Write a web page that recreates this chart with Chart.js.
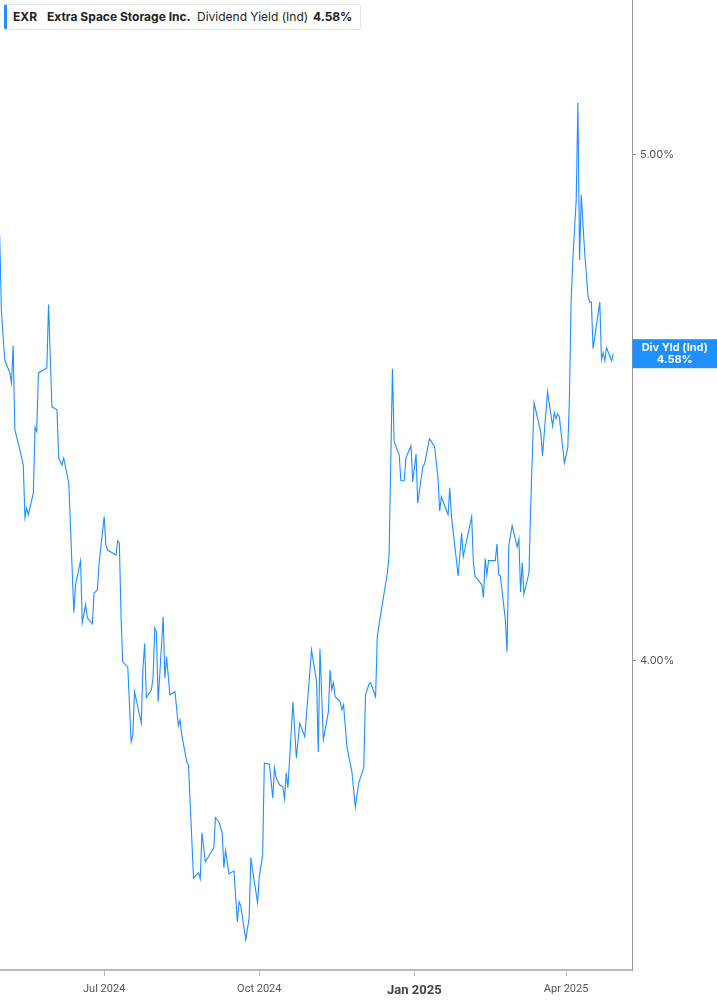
<!DOCTYPE html>
<html>
<head>
<meta charset="utf-8">
<script src="https://cdn.jsdelivr.net/npm/chart.js@4.4.1/dist/chart.umd.min.js"></script>
<style>
  html, body { margin: 0; padding: 0; background: #ffffff; }
  #wrap { position: relative; width: 717px; height: 1005px; overflow: hidden; }
  #c { position: absolute; left: 0; top: 0; }
  #legend {
    position: absolute; left: 4px; top: 4px; width: 357px; height: 26px;
    box-sizing: border-box; border: 1px solid #e4e4e4; border-left: 3px solid #1e8fff;
    border-radius: 3px; background: #fff;
    font-family: Inter, "Noto Sans", sans-serif; font-size: 12px; color: #222;
  }
  #legend span { position: absolute; top: 5px; white-space: nowrap; line-height: 14px; }
  .b { font-weight: 700; }
</style>
</head>
<body>
<div id="wrap">
  <canvas id="c" width="717" height="1005"></canvas>
  <div id="legend">
    <span class="b" style="left:6px">EXR</span>
    <span class="b" style="left:40px">Extra Space Storage Inc.</span>
    <span style="left:190px">Dividend Yield (Ind)</span>
    <span class="b" style="left:306px">4.58%</span>
  </div>
</div>
<script>
// ---- data ----
const dates = [
  '2024-04-30','2024-05-01','2024-05-03','2024-05-06','2024-05-07','2024-05-08','2024-05-09','2024-05-12','2024-05-14','2024-05-15',
  '2024-05-16','2024-05-17','2024-05-20','2024-05-21','2024-05-22','2024-05-23','2024-05-28','2024-05-29','2024-05-31','2024-06-03',
  '2024-06-04','2024-06-06','2024-06-07','2024-06-10','2024-06-13','2024-06-14','2024-06-17','2024-06-18','2024-06-20','2024-06-21',
  '2024-06-24','2024-06-25','2024-06-27','2024-06-28','2024-07-01','2024-07-02','2024-07-03','2024-07-08','2024-07-09','2024-07-10',
  '2024-07-11','2024-07-12','2024-07-15','2024-07-17','2024-07-18','2024-07-19','2024-07-23','2024-07-24','2024-07-25','2024-07-26',
  '2024-07-29','2024-07-30','2024-07-31','2024-08-01','2024-08-02','2024-08-05','2024-08-06','2024-08-07','2024-08-09','2024-08-12',
  '2024-08-14','2024-08-15','2024-08-16','2024-08-19','2024-08-20','2024-08-23','2024-08-26','2024-08-27','2024-08-28','2024-08-30',
  '2024-09-04','2024-09-05','2024-09-07','2024-09-09','2024-09-10','2024-09-11','2024-09-13','2024-09-16','2024-09-18','2024-09-19',
  '2024-09-20','2024-09-23','2024-09-25','2024-09-26','2024-09-27','2024-09-30','2024-10-01','2024-10-03','2024-10-04','2024-10-07',
  '2024-10-09','2024-10-10','2024-10-11','2024-10-13','2024-10-15','2024-10-16','2024-10-17','2024-10-18','2024-10-21','2024-10-23',
  '2024-10-25','2024-10-28','2024-11-01','2024-11-04','2024-11-05','2024-11-06','2024-11-08','2024-11-11','2024-11-12','2024-11-13',
  '2024-11-14','2024-11-15','2024-11-18','2024-11-19','2024-11-20','2024-11-22','2024-11-25','2024-11-27','2024-11-29','2024-12-02',
  '2024-12-03','2024-12-05','2024-12-06','2024-12-09','2024-12-10','2024-12-11','2024-12-16','2024-12-17','2024-12-19','2024-12-20',
  '2024-12-23','2024-12-24','2024-12-26','2024-12-27','2024-12-30','2024-12-31','2025-01-02','2025-01-03','2025-01-06','2025-01-07',
  '2025-01-10','2025-01-13','2025-01-15','2025-01-16','2025-01-17','2025-01-21','2025-01-22','2025-01-23','2025-01-27','2025-01-29',
  '2025-01-30','2025-02-04','2025-02-05','2025-02-06','2025-02-07','2025-02-10','2025-02-11','2025-02-12','2025-02-13','2025-02-14',
  '2025-02-18','2025-02-19','2025-02-20','2025-02-21','2025-02-24','2025-02-25','2025-02-26','2025-02-28','2025-03-03','2025-03-04',
  '2025-03-05','2025-03-06','2025-03-07','2025-03-10','2025-03-11','2025-03-13','2025-03-17','2025-03-18','2025-03-21','2025-03-24',
  '2025-03-25','2025-03-26','2025-03-27','2025-03-28','2025-03-31','2025-04-02','2025-04-03','2025-04-04','2025-04-05','2025-04-07',
  '2025-04-08','2025-04-09','2025-04-10','2025-04-12','2025-04-14','2025-04-15','2025-04-16','2025-04-17','2025-04-21','2025-04-22',
  '2025-04-23','2025-04-24','2025-04-25','2025-04-28','2025-04-29'
];
const yields = [
  4.842,4.694,4.595,4.569,4.549,4.623,4.457,4.417,4.387,4.283,
  4.302,4.289,4.332,4.462,4.453,4.569,4.579,4.704,4.502,4.496,
  4.401,4.387,4.401,4.352,4.095,4.150,4.198,4.075,4.111,4.085,
  4.073,4.134,4.140,4.194,4.285,4.229,4.219,4.209,4.237,4.233,
  4.087,3.998,3.988,3.840,3.854,3.939,3.877,3.986,4.034,3.927,
  3.943,3.966,4.065,4.057,3.919,4.087,3.966,4.008,3.933,3.939,
  3.872,3.883,3.854,3.800,3.794,3.571,3.581,3.569,3.660,3.603,
  3.630,3.690,3.682,3.660,3.591,3.626,3.579,3.585,3.484,3.524,
  3.516,3.449,3.492,3.611,3.587,3.522,3.573,3.617,3.798,3.796,
  3.729,3.789,3.769,3.755,3.751,3.727,3.779,3.749,3.919,3.808,
  3.877,3.850,4.022,3.958,3.820,4.024,3.844,3.899,3.982,3.943,
  3.957,3.929,3.919,3.903,3.913,3.830,3.779,3.711,3.759,3.789,
  3.933,3.953,3.957,3.929,4.047,4.071,4.174,4.209,4.577,4.433,
  4.407,4.356,4.356,4.401,4.425,4.354,4.409,4.312,4.383,4.389,
  4.439,4.423,4.362,4.296,4.324,4.289,4.342,4.285,4.168,4.253,
  4.206,4.285,4.194,4.166,4.164,4.150,4.125,4.202,4.170,4.198,
  4.198,4.231,4.170,4.168,4.081,4.018,4.227,4.267,4.225,4.241,
  4.136,4.194,4.132,4.174,4.304,4.510,4.451,4.405,4.532,4.464,
  4.490,4.478,4.488,4.482,4.391,4.421,4.522,4.713,4.792,4.911,
  5.103,4.792,4.921,4.808,4.721,4.709,4.709,4.617,4.709,4.595,
  4.609,4.593,4.619,4.593,4.607
];
const xTickDates  = ['2024-07-01','2024-10-01','2025-01-01','2025-04-01'];
const xTickLabels = ['Jul 2024','Oct 2024','Jan 2025','Apr 2025'];
const boldTickLabel = 'Jan 2025';
const yTicks = [4.00, 5.00];
const seriesName = 'Div Yld (Ind)';
const lastLabel = '4.58%';

// ---- helpers ----
const BASE = Date.UTC(2024, 6, 1);
const dayOf = s => { const p = s.split('-').map(Number); return (Date.UTC(p[0], p[1]-1, p[2]) - BASE) / 86400000; };
const points = dates.map((d, i) => ({ x: dayOf(d), y: yields[i] }));
const xTickVals = xTickDates.map(dayOf);
const labelFor = v => xTickLabels[xTickVals.indexOf(v)] || '';

const LINE_BLUE = '#1e8fff';

const lastBadge = {
  id: 'lastBadge',
  afterDraw(chart) {
    const { ctx, chartArea, scales } = chart;
    const last = points[points.length - 1];
    const y = scales.y.getPixelForValue(last.y);
    const x0 = chartArea.right + 0.5, x1 = chart.width;
    ctx.save();
    ctx.fillStyle = LINE_BLUE;
    ctx.fillRect(x0, y - 14.5, x1 - x0, 29);
    ctx.fillStyle = '#ffffff';
    ctx.font = '700 11px Inter, "Noto Sans", sans-serif';
    ctx.textAlign = 'center';
    ctx.textBaseline = 'middle';
    const cx = (x0 + x1) / 2;
    ctx.fillText(seriesName, cx, y - 6);
    ctx.fillText(lastLabel, cx, y + 5.5);
    ctx.restore();
  }
};

new Chart(document.getElementById('c'), {
  type: 'line',
  data: {
    datasets: [{
      data: points,
      borderColor: LINE_BLUE,
      borderWidth: 1.1,
      pointRadius: 0,
      tension: 0,
      fill: false
    }]
  },
  options: {
    responsive: false,
    animation: false,
    devicePixelRatio: 1,
    layout: { padding: 0 },
    plugins: { legend: { display: false }, tooltip: { enabled: false } },
    scales: {
      x: {
        type: 'linear',
        min: -61.8,
        max: 313.1,
        afterFit(s) { s.height = 35; s.paddingLeft = 0; s.paddingRight = 0; },
        afterBuildTicks(s) { s.ticks = xTickVals.map(v => ({ value: v })); },
        grid: { drawOnChartArea: false, drawTicks: true, tickLength: 6, color: '#bbbbbb', lineWidth: 1 },
        border: { display: true, color: '#bbbbbb', width: 2 },
        ticks: {
          autoSkip: false,
          maxRotation: 0,
          padding: 7,
          callback: v => labelFor(v),
          color: ctx => labelFor(ctx.tick.value) === boldTickLabel ? '#444' : '#555',
          font: ctx => labelFor(ctx.tick && ctx.tick.value) === boldTickLabel
            ? { family: 'Roboto, Inter, sans-serif', size: 13, weight: '700' }
            : { family: 'Roboto, Inter, sans-serif', size: 11, weight: '400' }
        }
      },
      y: {
        type: 'linear',
        position: 'right',
        min: 3.389,
        max: 5.306,
        afterFit(s) { s.width = 85; s.paddingTop = 0; s.paddingBottom = 0; },
        afterBuildTicks(s) { s.ticks = yTicks.map(v => ({ value: v })); },
        grid: { drawOnChartArea: false, drawTicks: true, tickLength: 4, color: '#888888' },
        border: { display: true, color: '#999999', width: 1 },
        ticks: {
          padding: 4,
          color: '#555',
          font: { family: 'Inter, "Noto Sans", sans-serif', size: 11 },
          callback: v => Number(v).toFixed(2) + '%'
        }
      }
    }
  },
  plugins: [lastBadge]
});
</script>
</body>
</html>
